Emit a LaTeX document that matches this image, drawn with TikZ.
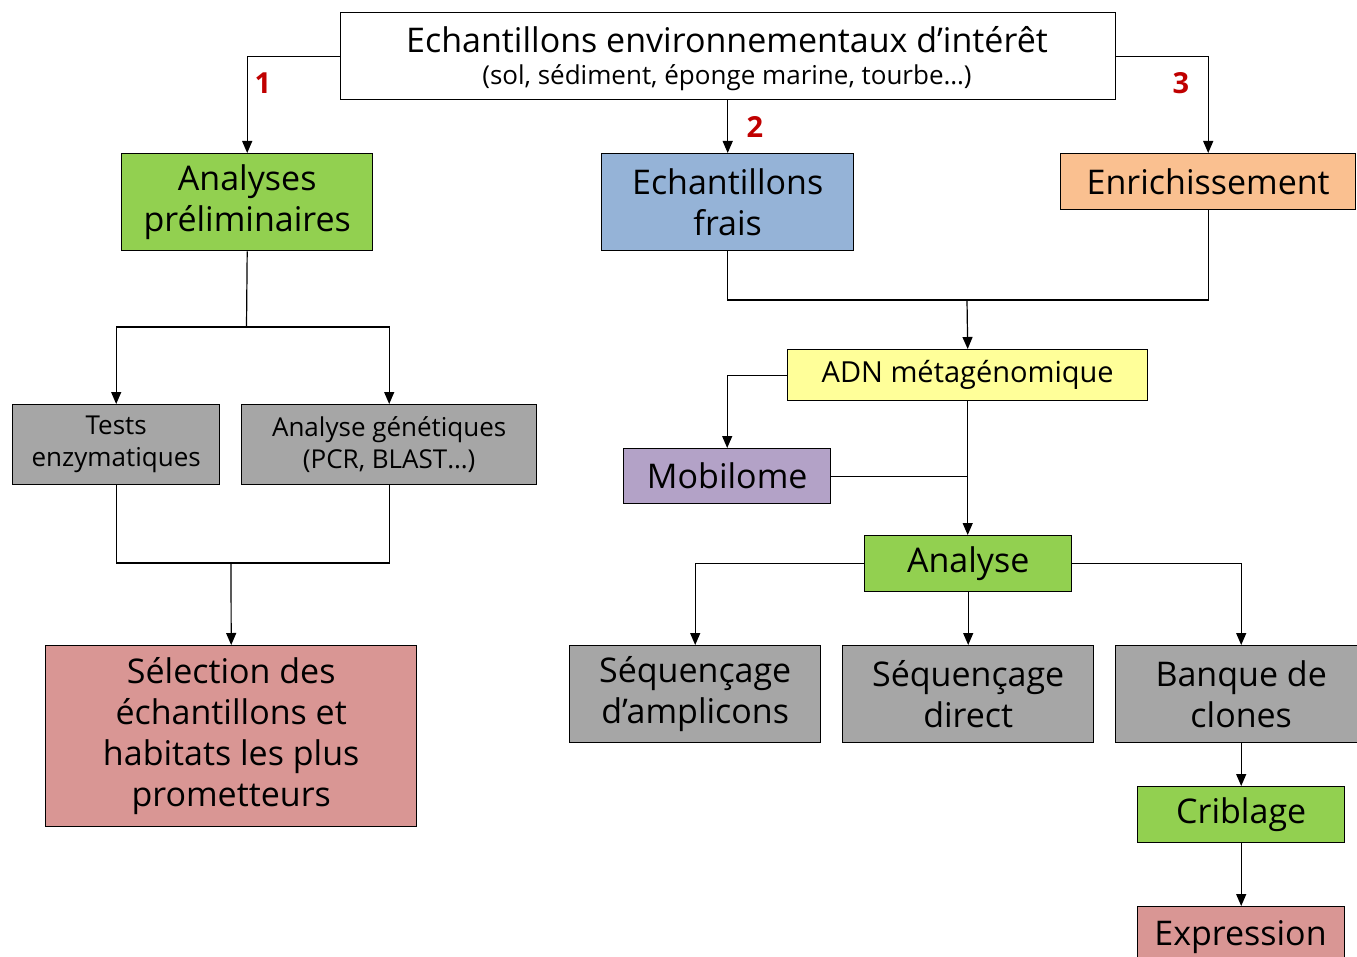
\documentclass[tikz,border=0pt]{standalone}
\usepackage{fontspec}
\setmainfont{Open Sans}
\usetikzlibrary{arrows.meta}
\definecolor{cgreen}{HTML}{92D050}
\definecolor{cblue}{HTML}{95B3D7}
\definecolor{corange}{HTML}{FAC090}
\definecolor{cgray}{HTML}{A6A6A6}
\definecolor{cpink}{HTML}{D99694}
\definecolor{cyellow}{HTML}{FFFF99}
\definecolor{cpurple}{HTML}{B3A2C7}
\definecolor{cred}{HTML}{C00000}
\tikzset{
  box/.style={draw=black, line width=1.4pt, inner sep=0pt, align=center,
              anchor=north west},
  big/.style={font=\fontsize{34}{41}\selectfont},
  mid/.style={font=\fontsize{29}{34}\selectfont},
  small/.style={font=\fontsize{26}{32}\selectfont},
  link/.style={draw=black, line width=1.2pt},
  arr/.style={link, -{Triangle[length=12pt, width=10pt]}},
  num/.style={text=cred, font=\fontsize{29}{30}\selectfont\bfseries}
}
\begin{document}
\begin{tikzpicture}[x=1pt, y=-1pt]
\clip (0,0) rectangle (1357,957);
\fill[white] (0,0) rectangle (1357,957);

% top sample box
\node[box, fill=white, minimum width=775pt, minimum height=87pt] (top) at (340,12) {};
\node[font=\fontsize{34}{36}\selectfont] at (727,40) {Echantillons environnementaux d’intérêt};
\node[font=\fontsize{26}{28}\selectfont] at (727,78) {(sol, sédiment, éponge marine, tourbe…)};

% three routes
\node[box, big, fill=cgreen, minimum width=251pt, minimum height=97pt] (prelim) at (121,153) {Analyses\\préliminaires};
\node[box, big, fill=cblue, minimum width=252pt, minimum height=97pt] (frais) at (601,153) {Echantillons\\frais};
\node[box, big, fill=corange, minimum width=295pt, minimum height=56pt] (enrich) at (1060,153) {Enrichissement};

% preliminary analyses branch
\node[box, small, fill=cgray, minimum width=207pt, minimum height=80pt] (tests) at (12,404) {Tests\\enzymatiques};
\node[box, small, fill=cgray, minimum width=295pt, minimum height=80pt] (genet) at (241,404) {Analyse génétiques\\(PCR, BLAST…)};
\node[box, big, fill=cpink, minimum width=371pt, minimum height=181pt] (select) at (45,645) {Sélection des\\échantillons et\\habitats les plus\\prometteurs};

% metagenomic branch
\node[box, mid, fill=cyellow, minimum width=360pt, minimum height=51pt] (adn) at (787,349) {ADN métagénomique};
\node[box, big, fill=cpurple, minimum width=207pt, minimum height=55pt] (mobil) at (623,448) {Mobilome};
\node[box, big, fill=cgreen, minimum width=207pt, minimum height=56pt] (analyse) at (864,535) {Analyse};
\node[box, big, fill=cgray, minimum width=251pt, minimum height=97pt] (ampl) at (569,645) {Séquençage\\d’amplicons};
\node[box, big, fill=cgray, minimum width=251pt, minimum height=97pt] (direct) at (842,645) {Séquençage\\direct};
\node[box, big, fill=cgray, minimum width=251pt, minimum height=97pt] (banque) at (1115,645) {Banque de\\clones};
\node[box, big, fill=cgreen, minimum width=207pt, minimum height=56pt] (crib) at (1137,786) {Criblage};
\node[box, fill=cpink, minimum width=207pt, minimum height=80pt] (expr) at (1137,906) {};
\node[big] at (1240.5,937) {Expression};

% junction points
\coordinate (j1) at (246.5,327);
\coordinate (j2) at (231,563);
\coordinate (j3) at (967,300);

% connectors from the sample box
\draw[arr] (top.west) -| (prelim.north);
\draw[arr] (top.south -| frais.north) -- (frais.north);
\draw[arr] (top.east) -| (enrich.north);
\node[num] at (263,83) {1};
\node[num] at (755,127) {2};
\node[num] at (1181,83) {3};

% preliminary analyses
\draw[link] (prelim.south) -- (j1);
\draw[arr] (j1) -| (tests.north);
\draw[arr] (j1) -| (genet.north);
\draw[link] (tests.south) |- (j2);
\draw[link] (genet.south) |- (j2);
\draw[arr] (j2) -- (select.north);

% fresh and enriched samples
\draw[link] (frais.south) |- (j3);
\draw[link] (enrich.south) |- (j3);
\draw[arr] (j3) -- (adn.north);
\draw[arr] (adn.west) -| (mobil.north);
\draw[arr] (adn.south) -- (adn.south |- analyse.north);
\draw[link] (mobil.east) -- (mobil.east -| adn.south);

% analysis methods
\draw[arr] (analyse.west) -| (ampl.north);
\draw[arr] (analyse.south -| direct.north) -- (direct.north);
\draw[arr] (analyse.east) -| (banque.north);
\draw[arr] (banque.south) -- (crib.north);
\draw[arr] (crib.south) -- (expr.north);
\end{tikzpicture}
\end{document}
